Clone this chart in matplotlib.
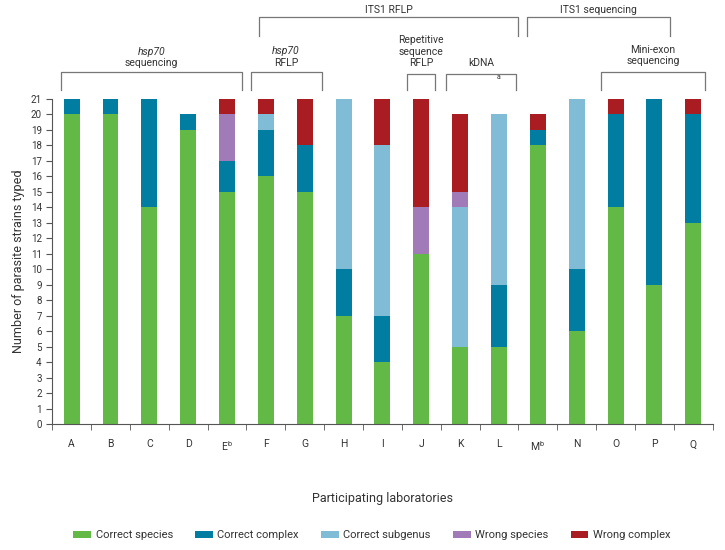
import numpy as np
import matplotlib
matplotlib.use("Agg")
import matplotlib.pyplot as plt
import matplotlib.transforms as mtransforms

plt.rcParams['font.family'] = ['Roboto', 'DejaVu Sans']

# data
labs = ['A', 'B', 'C', 'D', 'E$^{\\mathregular{b}}$', 'F', 'G', 'H', 'I', 'J', 'K', 'L',
        'M$^{\\mathregular{b}}$', 'N', 'O', 'P', 'Q']
correct_species  = [20, 20, 14, 19, 15, 16, 15, 7, 4, 11, 5, 5, 18, 6, 14, 9, 13]
correct_complex  = [1, 1, 7, 1, 2, 3, 3, 3, 3, 0, 0, 4, 1, 4, 6, 12, 7]
correct_subgenus = [0, 0, 0, 0, 0, 1, 0, 11, 11, 0, 9, 11, 0, 11, 0, 0, 0]
wrong_species    = [0, 0, 0, 0, 3, 0, 0, 0, 0, 3, 1, 0, 0, 0, 0, 0, 0]
wrong_complex    = [0, 0, 0, 0, 1, 1, 3, 0, 3, 7, 5, 0, 1, 0, 1, 0, 1]

series = [
    ('Correct species', correct_species, '#62b946'),
    ('Correct complex', correct_complex, '#007da0'),
    ('Correct subgenus', correct_subgenus, '#80bcd5'),
    ('Wrong species', wrong_species, '#a07bb8'),
    ('Wrong complex', wrong_complex, '#a81c22'),
]

fig = plt.figure(figsize=(7.25, 5.5), dpi=100)
ax = fig.add_axes([0.072, 0.229, 0.911, 0.591])

x = np.arange(len(labs))
bottom = np.zeros(len(labs))
for name, vals, col in series:
    ax.bar(x, vals, width=0.41, bottom=bottom, color=col, label=name)
    bottom += np.array(vals)

ax.set_xlim(-0.5, len(labs) - 0.5)
ax.set_ylim(0, 21)
ax.set_yticks(range(22))
ax.tick_params(axis='y', labelsize=7, length=4, color='#555555', labelcolor='#333333')
ax.set_xticks(x)
ax.set_xticklabels(labs, fontsize=7.5, color='#333333')
ax.tick_params(axis='x', length=0, pad=11)
ax.set_xticks(np.arange(-0.5, len(labs), 1), minor=True)
ax.tick_params(axis='x', which='minor', length=4, color='#555555')
for s in ['top', 'right']:
    ax.spines[s].set_visible(False)
ax.spines['left'].set_color('#555555')
ax.spines['bottom'].set_color('#555555')

ax.set_ylabel('Number of parasite strains typed', fontsize=9, color='#333333')
ax.set_xlabel('Participating laboratories', fontsize=9, color='#333333', labelpad=28)

# method brackets above bars
tr = mtransforms.blended_transform_factory(ax.transData, ax.transAxes)
bc = '#777777'

def bracket(x0, x1, ytop, ybot):
    ax.plot([x0, x0, x1, x1], [ybot, ytop, ytop, ybot], color=bc, lw=0.9,
            transform=tr, clip_on=False)

low_top, low_bot = 1.083, 1.028
bracket(-0.28, 4.38, low_top, low_bot)
bracket(4.61, 6.44, low_top, low_bot)
bracket(8.63, 9.36, 1.077, low_bot)
bracket(9.64, 11.44, 1.077, low_bot)
bracket(13.63, 16.29, 1.083, low_bot)
bracket(4.82, 11.5, 1.252, 1.194)
bracket(11.73, 15.4, 1.252, 1.194)

fs = 7.5
tc = '#333333'
ax.text(2.05, 1.146, 'hsp70', style='italic', ha='center', va='center', fontsize=fs, color=tc, transform=tr)
ax.text(2.05, 1.112, 'sequencing', ha='center', va='center', fontsize=fs, color=tc, transform=tr)
ax.text(5.52, 1.149, 'hsp70', style='italic', ha='center', va='center', fontsize=fs, color=tc, transform=tr)
ax.text(5.52, 1.112, 'RFLP', ha='center', va='center', fontsize=fs, color=tc, transform=tr)
ax.text(9.0, 1.18, 'Repetitive', ha='center', va='center', fontsize=fs, color=tc, transform=tr)
ax.text(9.0, 1.146, 'sequence', ha='center', va='center', fontsize=fs, color=tc, transform=tr)
ax.text(9.0, 1.112, 'RFLP', ha='center', va='center', fontsize=fs, color=tc, transform=tr)
ax.text(10.55, 1.112, 'kDNA', ha='center', va='center', fontsize=fs, color=tc, transform=tr)
ax.text(11.0, 1.066, 'a', ha='center', va='center', fontsize=5, color=tc, transform=tr)
ax.text(14.96, 1.152, 'Mini-exon', ha='center', va='center', fontsize=fs, color=tc, transform=tr)
ax.text(14.96, 1.118, 'sequencing', ha='center', va='center', fontsize=fs, color=tc, transform=tr)
ax.text(8.16, 1.274, 'ITS1 RFLP', ha='center', va='center', fontsize=fs, color=tc, transform=tr)
ax.text(13.56, 1.274, 'ITS1 sequencing', ha='center', va='center', fontsize=fs, color=tc, transform=tr)

fig.legend(loc='center', bbox_to_anchor=(0.513, 0.027), ncol=5, frameon=False,
           fontsize=8, handlelength=1.6, handleheight=0.55, handletextpad=0.4,
           columnspacing=2.0, labelcolor='#333333')

fig.savefig('out.png', dpi=100)
